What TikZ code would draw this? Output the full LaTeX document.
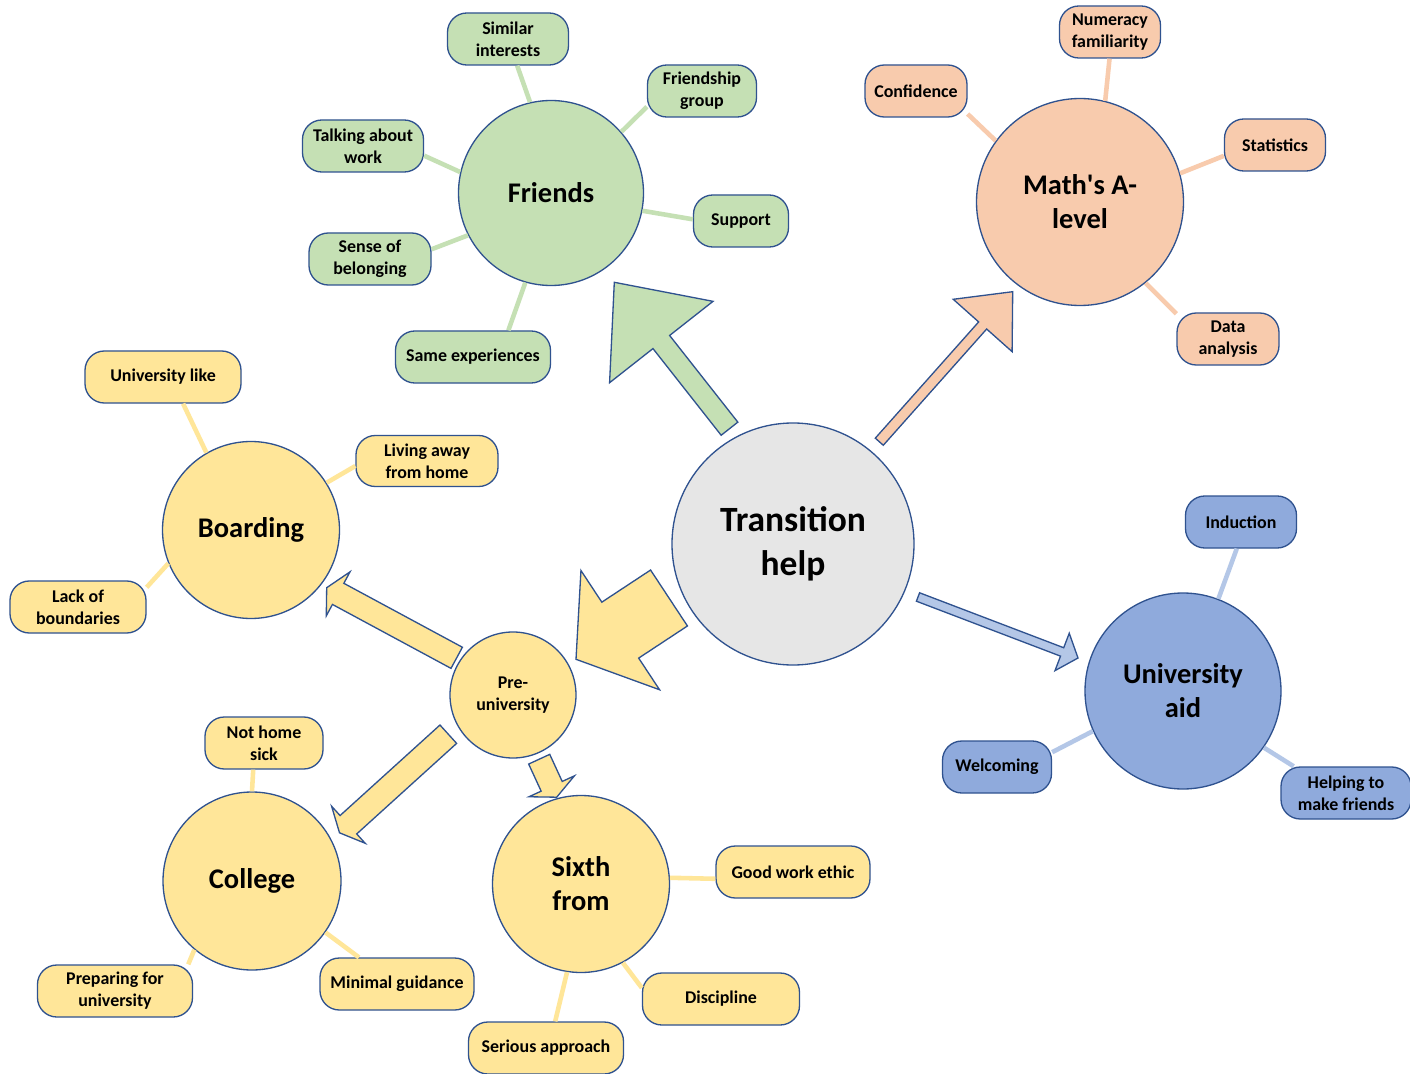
\documentclass[tikz,border=0pt]{standalone}
\usepackage{fontspec}
\setmainfont{Carlito}
\usetikzlibrary{calc}

\definecolor{edgeblue}{HTML}{2F528F}
\definecolor{greenF}{HTML}{C5E0B4}
\definecolor{orangeF}{HTML}{F8CBAD}
\definecolor{yellowF}{HTML}{FFE699}
\definecolor{blueF}{HTML}{8FAADC}
\definecolor{blueL}{HTML}{B4C7E7}
\definecolor{greyF}{HTML}{E6E6E6}

\newcommand\leaffont{\fontsize{10.2}{12.5}\selectfont\bfseries}
\newcommand\hubfont{\fontsize{16.2}{19.4}\selectfont\bfseries}
\newcommand\rootfont{\fontsize{20.2}{25}\selectfont\bfseries}

% block arrow: fill, tail, tip, shaft half-width, head half-width, head length
\newcommand\blockarrow[6]{%
  \coordinate (bhb) at ($(#3)!#6!(#2)$);
  \filldraw[blockedge, fill=#1]
    ($(#2)!#4!90:(#3)$) -- ($(bhb)!#4!90:(#3)$) -- ($(bhb)!#5!90:(#3)$)
    -- (#3)
    -- ($(bhb)!#5!-90:(#3)$) -- ($(bhb)!#4!-90:(#3)$) -- ($(#2)!#4!-90:(#3)$)
    -- cycle;
}

\tikzset{
  outline/.style={draw=edgeblue, line width=0.75pt},
  hub/.style={circle, outline, inner sep=0pt, align=center, font=\hubfont},
  leaf/.style={rectangle, rounded corners=11pt, outline, minimum height=10.4mm,
               inner sep=0pt, align=center, font=\leaffont},
  conn/.style={line width=2.6pt, draw=#1},
  blockedge/.style={draw=edgeblue, line width=0.75pt, line join=miter}
}

\begin{document}
\begin{tikzpicture}[x=0.2mm, y=-0.2mm]
\fill[white] (0,0) rectangle (1410,1074);
\path[use as bounding box] (0,0) rectangle (1410,1074);

% central topic
\node[hub, fill=greyF, minimum size=48.4mm, font=\rootfont] (trans) at (793,544) {Transition\\help};

% Friends cluster
\node[hub, fill=greenF, minimum size=37mm] (friends) at (551,193) {Friends};
\node[leaf, fill=greenF, minimum width=24.2mm] (simint) at (508,39) {Similar\\interests};
\node[leaf, fill=greenF, minimum width=21.8mm] (fgroup) at (702,91) {Friendship\\group};
\node[leaf, fill=greenF, minimum width=24.2mm] (talking) at (363,146) {Talking about\\work};
\node[leaf, fill=greenF, minimum width=19mm] (support) at (741,221) {Support};
\node[leaf, fill=greenF, minimum width=24.4mm] (sense) at (370,259) {Sense of\\belonging};
\node[leaf, fill=greenF, minimum width=31mm] (sameexp) at (473,357) {Same experiences};

% Maths cluster
\node[hub, fill=orangeF, minimum size=41.4mm] (maths) at (1080,202) {Math\textquotesingle s A-\\level};
\node[leaf, fill=orangeF, minimum width=20.2mm] (numeracy) at (1110,32) {Numeracy\\familiarity};
\node[leaf, fill=orangeF, minimum width=20.4mm] (confid) at (916,91) {Confidence};
\node[leaf, fill=orangeF, minimum width=20.2mm] (stats) at (1275,145) {Statistics};
\node[leaf, fill=orangeF, minimum width=20.4mm] (data) at (1228,339) {Data\\analysis};

% Pre-university branch
\node[hub, fill=yellowF, minimum size=25.2mm, font=\leaffont] (preuni) at (513,695) {Pre-\\university};

\node[hub, fill=yellowF, minimum size=35.4mm] (boarding) at (251,530) {Boarding};
\node[leaf, fill=yellowF, minimum width=31.2mm] (unilike) at (163,377) {University like};
\node[leaf, fill=yellowF, minimum width=28.4mm, minimum height=10.2mm] (living) at (427,461) {Living away\\from home};
\node[leaf, fill=yellowF, minimum width=27.2mm] (lack) at (78,607) {Lack of\\boundaries};

\node[hub, fill=yellowF, minimum size=35.6mm] (college) at (252,881) {College};
\node[leaf, fill=yellowF, minimum width=23.6mm] (nothome) at (264,743) {Not home\\sick};
\node[leaf, fill=yellowF, minimum width=31mm] (preparing) at (115,991) {Preparing for\\university};
\node[leaf, fill=yellowF, minimum width=30.8mm] (minimal) at (397,984) {Minimal guidance};

\node[hub, fill=yellowF, minimum size=35.4mm] (sixth) at (581,884) {Sixth\\from};
\node[leaf, fill=yellowF, minimum width=30.8mm] (goodwork) at (793,872) {Good work ethic};
\node[leaf, fill=yellowF, minimum width=31.4mm] (discipline) at (721,999) {Discipline};
\node[leaf, fill=yellowF, minimum width=31mm] (serious) at (546,1048) {Serious approach};

% University aid cluster
\node[hub, fill=blueF, minimum size=39.2mm] (uniaid) at (1183,691) {University\\aid};
\node[leaf, fill=blueF, minimum width=22.2mm] (induction) at (1241,522) {Induction};
\node[leaf, fill=blueF, minimum width=21.8mm] (welcoming) at (997,767) {Welcoming};
\node[leaf, fill=blueF, minimum width=26mm] (helping) at (1346,793) {Helping to\\make friends};

% spokes
\draw[conn=greenF] (friends.103) -- (simint.-71);
\draw[conn=greenF] (friends.41) -- (fgroup.-164);
\draw[conn=greenF] (friends.167) -- (talking.-9);
\draw[conn=greenF] (friends.-11) -- (support.178);
\draw[conn=greenF] (friends.-153) -- (sense.9);
\draw[conn=greenF] (friends.-106) -- (sameexp.37);

\draw[conn=orangeF] (maths.76) -- (numeracy.-91);
\draw[conn=orangeF] (maths.144) -- (confid.-24);
\draw[conn=orangeF] (maths.16) -- (stats.-168);
\draw[conn=orangeF] (maths.-51) -- (data.154);

\draw[conn=yellowF] (boarding.120) -- (unilike.-53);
\draw[conn=yellowF] (boarding.32) -- (living.-176);
\draw[conn=yellowF] (boarding.-158) -- (lack.16);

\draw[conn=yellowF] (college.90) -- (nothome.-112);
\draw[conn=yellowF] (college.-130) -- (preparing.20);
\draw[conn=yellowF] (college.-35) -- (minimal.145);

\draw[conn=yellowF] (sixth.4) -- (goodwork.185);
\draw[conn=yellowF] (sixth.-62) -- (discipline.172);
\draw[conn=yellowF] (sixth.-99) -- (serious.71);

\draw[conn=blueL] (uniaid.69) -- (induction.-99);
\draw[conn=blueL] (uniaid.-156) -- (welcoming.15);
\draw[conn=blueL] (uniaid.-35) -- (helping.153);

% block arrows between the hubs
\coordinate (gTail) at (729.5,428.7);  \coordinate (gTip) at (614.3,282.3);
\coordinate (oTail) at (879.3,441.7);  \coordinate (oTip) at (1012.7,291.7);
\coordinate (bTail) at (918,597);      \coordinate (bTip) at (1078,658);
\coordinate (yTail) at (669,598);      \coordinate (yTip) at (576,659.3);
\coordinate (pbTail) at (456.7,657.8); \coordinate (pbTip) at (326.7,587.7);
\coordinate (pcTail) at (448.3,734.2); \coordinate (pcTip) at (339.5,832.8);
\coordinate (psTail) at (539.2,759.2); \coordinate (psTip) at (556.7,797.2);

\blockarrow{greenF}{gTail}{gTip}{2.12mm}{13.16mm}{15.2mm}
\blockarrow{orangeF}{oTail}{oTip}{1.07mm}{7.88mm}{9.04mm}
\blockarrow{blueL}{bTail}{bTip}{0.9mm}{4mm}{3.4mm}
\blockarrow{yellowF}{yTail}{yTip}{6.7mm}{14.28mm}{10.6mm}
\blockarrow{yellowF}{pbTail}{pbTip}{2.4mm}{5mm}{2.6mm}
\blockarrow{yellowF}{pcTail}{pcTip}{2.48mm}{5mm}{2.4mm}
\blockarrow{yellowF}{psTail}{psTip}{2.32mm}{5mm}{2.4mm}
\end{tikzpicture}
\end{document}
